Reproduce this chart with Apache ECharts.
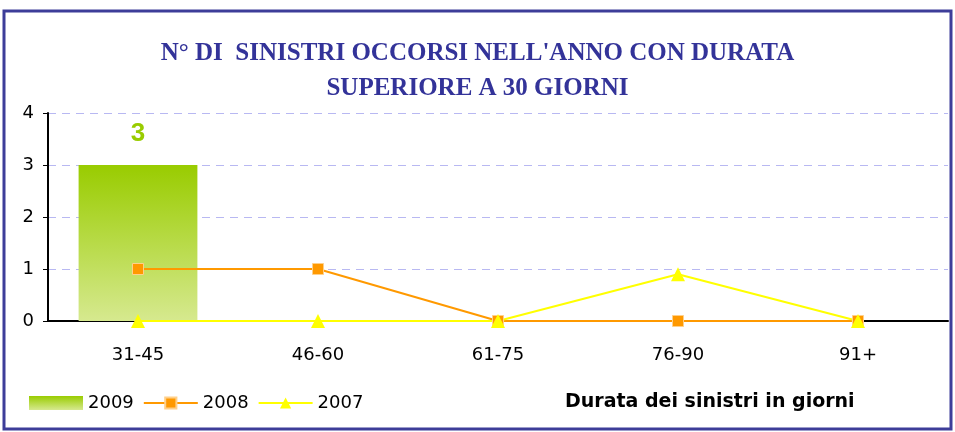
<!DOCTYPE html>
<html>
<head>
    <meta charset="utf-8" />
    <title>Sinistri con durata superiore a 30 giorni</title>
    <style>
        html, body { margin: 0; padding: 0; background: #fff; }
        #chart { width: 955px; height: 432px; }
    </style>
</head>
<body>
    <div id="chart"></div>
    <script src="https://cdn.jsdelivr.net/npm/echarts@6/dist/echarts.min.js"></script>
    <script>
        // categorie (durata in giorni)
        var categories = ['31-45', '46-60', '61-75', '76-90', '91+'];
        // valori per anno
        var data2009 = [3, 0, 0, 0, 0];
        var data2008 = [1, 1, 0, 0, 0];
        var data2007 = [0, 0, 0, 0.9, 0];
        var yTicks = [0, 1, 2, 3, 4];

        var chart = echarts.init(document.getElementById('chart'));

        var option = {
            backgroundColor: '#fff',
            animation: false,
            textStyle: { fontFamily: '"DejaVu Sans", Arial, sans-serif' },
            // cornice blu
            graphic: [{
                type: 'rect',
                shape: { x: 4, y: 11, width: 947, height: 418 },
                style: { fill: 'none', stroke: '#3d3d99', lineWidth: 3 },
                silent: true
            }],
            title: [{
                text: "N° DI  SINISTRI OCCORSI NELL'ANNO CON DURATA\nSUPERIORE A 30 GIORNI",
                left: 'center',
                top: 31,
                textStyle: {
                    fontFamily: '"Liberation Serif", "Times New Roman", serif',
                    fontWeight: 'bold',
                    fontSize: 25,
                    lineHeight: 35,
                    color: '#333399'
                }
            }, {
                text: 'Durata dei sinistri in giorni',
                left: 560,
                top: 388,
                textStyle: {
                    fontWeight: 'bold',
                    fontSize: 19,
                    color: '#000'
                }
            }],
            legend: {
                left: 24,
                top: 389,
                itemWidth: 54,
                itemHeight: 14,
                itemGap: 9,
                textStyle: { fontSize: 18, color: '#000' },
                data: [{ name: '2009', icon: 'rect' }, { name: '2008' }, { name: '2007' }]
            },
            grid: { left: 48, right: 7, top: 113, bottom: 111 },
            xAxis: {
                type: 'category',
                data: categories,
                axisLine: { lineStyle: { color: '#000', width: 2 } },
                axisTick: { length: 5, lineStyle: { color: '#000' } },
                axisLabel: { color: '#000', fontSize: 18, margin: 25 }
            },
            yAxis: {
                type: 'value',
                min: yTicks[0],
                max: yTicks[yTicks.length - 1],
                interval: 1,
                axisLine: { show: true, lineStyle: { color: '#000', width: 2 } },
                axisTick: { show: true, length: 5, lineStyle: { color: '#000' } },
                axisLabel: { color: '#000', fontSize: 18, margin: 14 },
                splitLine: { lineStyle: { color: '#b8b8f2', width: 1, type: [8, 6] } }
            },
            series: [{
                name: '2009',
                type: 'bar',
                barWidth: '66%',
                data: data2009,
                itemStyle: {
                    color: new echarts.graphic.LinearGradient(0, 0, 0, 1, [
                        { offset: 0, color: '#99cc00' },
                        { offset: 1, color: '#d6e98f' }
                    ])
                },
                label: {
                    show: true,
                    position: 'top',
                    distance: 18,
                    fontSize: 26,
                    fontWeight: 'bold',
                    fontFamily: 'Arial, "Liberation Sans", sans-serif',
                    color: '#99cc00',
                    formatter: function (p) { return p.value > 0 ? p.value : ''; }
                }
            }, {
                name: '2008',
                type: 'line',
                data: data2008,
                symbol: 'rect',
                symbolSize: 11,
                lineStyle: { color: '#ff9900', width: 2 },
                itemStyle: { color: '#ff9900', borderColor: '#ffd08a', borderWidth: 1 }
            }, {
                name: '2007',
                type: 'line',
                data: data2007,
                symbol: 'triangle',
                symbolSize: 14,
                lineStyle: { color: '#ffff00', width: 2 },
                itemStyle: { color: '#ffff00' }
            }]
        };

        chart.setOption(option);
    </script>
</body>
</html>
